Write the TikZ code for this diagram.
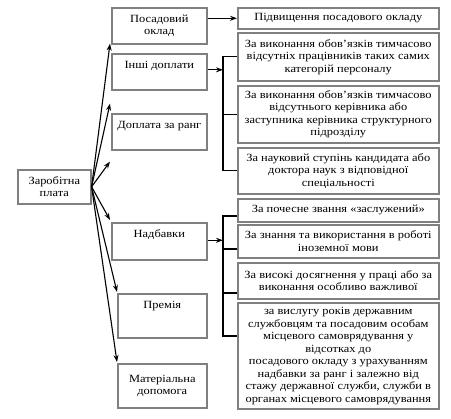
\documentclass[tikz,border=0pt]{standalone}
\usepackage{fontspec}
\setmainfont[FakeStretch=1.13]{Liberation Serif}
\usetikzlibrary{arrows.meta}
\definecolor{boxgray}{HTML}{808080}
\begin{document}
\begin{tikzpicture}[x=1pt,y=-1pt,
  box/.style={draw=boxgray, line width=1.6pt, anchor=north west, align=center,
    inner sep=0pt, font=\fontsize{11}{12.5}\selectfont},
  arr/.style={line width=1.1pt, -{Stealth[length=7pt,width=5pt]}},
  brk/.style={line width=1.1pt}]
\useasboundingbox (0,0) rectangle (451,419);
\fill[white] (0,0) rectangle (451,419);

% left
\node[box, minimum width=73, minimum height=34] (z) at (17,169) {Заробітна\\плата};

% middle column
\node[box, minimum width=95, minimum height=36] (poc) at (111,7) {Посадовий\\оклад};
\node[box, minimum width=95, text height=15pt, text depth=21pt] (ind) at (111,53) {Інші доплати};
\node[box, minimum width=95, text height=15pt, text depth=21pt] (dr) at (111,113) {Доплата за ранг};
\node[box, minimum width=95, text height=15pt, text depth=22pt] (nad) at (111,222) {Надбавки};
\node[box, minimum width=89, text height=15pt, text depth=29pt] (prem) at (117,293) {Премія};
\node[box, minimum width=89, minimum height=44] (mat) at (117,363) {Матеріальна\\допомога};

% right column
\node[box, minimum width=201, minimum height=21] (r0) at (237,7) {Підвищення посадового окладу};
\node[box, minimum width=201, minimum height=48] (a) at (237,32) {За виконання обов’язків тимчасово\\відсутніх працівників таких самих\\категорій персоналу};
\node[box, minimum width=201, minimum height=57] (b) at (237,85) {За виконання обов’язків тимчасово\\відсутнього керівника або\\заступника керівника структурного\\підрозділу};
\node[box, minimum width=201, minimum height=46] (c) at (237,147) {За науковий ступінь кандидата або\\доктора наук з відповідної\\спеціальності};
\node[box, minimum width=201, minimum height=23] (d) at (237,198) {За почесне звання «заслужений»};
\node[box, minimum width=201, minimum height=33] (e) at (237,224) {За знання та використання в роботі\\іноземної мови};
\node[box, minimum width=201, minimum height=36] (f) at (237,262) {За високі досягнення у праці або за\\виконання особливо важливої};
\node[box, minimum width=201, minimum height=106] (g) at (237,302) {за вислугу років державним\\службовцям та посадовим особам\\місцевого самоврядування у\\відсотках до\\посадового окладу з урахуванням\\надбавки за ранг і залежно від\\стажу державної служби, служби в\\органах місцевого самоврядування};

% arrows from the left box
\draw[arr] (z.east) -- ([shift={(-1,-1)}]poc.south west);
\draw[arr] (z.east) -- ([shift={(-1,13)}]ind.south west);
\draw[arr] (z.east) -- ([shift={(-1,11)}]dr.south west);
\draw[arr] (z.east) -- ([shift={(-1,-2)}]nad.north west);
\draw[arr] (z.east) -- ([shift={(0,-1)}]prem.north west);
\draw[arr] (z.east) -- ([shift={(0,-1)}]mat.north west);

% first arrow right
\draw[arr] (r0.west -| poc.east) -- (r0.west);

% bracket 1
\coordinate (b1) at (223,0);
\draw[brk] (a.west) -- (a.west -| b1) -- (c.west -| b1) -- (c.west);
\draw[brk] (b.west -| b1) -- (b.west);
\draw[arr] ([yshift=2pt]ind.east) -- ([yshift=2pt]ind.east -| b1);

% bracket 2
\coordinate (t1) at (223,216);
\coordinate (t2) at (223,249);
\coordinate (t3) at (223,293);
\coordinate (t4) at (223,336);
\draw[brk] (t1 -| d.west) -- (t1) -- (t4) -- (t4 -| g.west);
\draw[brk] (t2) -- (t2 -| e.west);
\draw[brk] (t3) -- (t3 -| f.west);
\draw[arr] ([yshift=1pt]nad.east) -- ([yshift=1pt]nad.east -| t1);
\end{tikzpicture}
\end{document}
